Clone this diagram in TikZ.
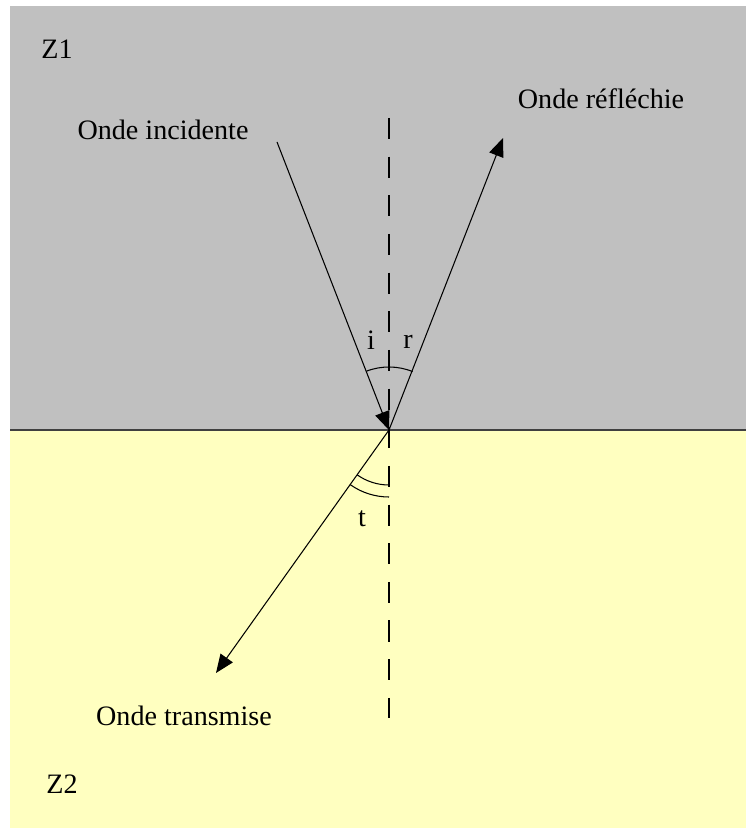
\documentclass[tikz,border=0pt]{standalone}
\usepackage{fontspec}
\setmainfont{Liberation Serif}
\usetikzlibrary{arrows.meta}
\definecolor{zoneone}{HTML}{C0C0C0}
\definecolor{zonetwo}{HTML}{FFFFC0}
\begin{document}
\begin{tikzpicture}[
  x=0.02cm, y=0.02cm,
  every node/.style={
    font=\fontsize{16}{19}\selectfont,
    inner sep=0pt
  },
  ray/.style={-{Triangle[length=10.5pt,width=8.5pt]}, line width=0.6pt},
  normal/.style={line width=0.8pt, dash pattern=on 12pt off 10pt},
  anglemark/.style={line width=0.6pt}
]
\useasboundingbox (0,0) rectangle (746,-830);
\fill[zoneone] (10,-6) rectangle (746,-430);
\fill[zonetwo] (10,-430) rectangle (746,-828);
\draw[line width=1pt, black!75] (10,-430) -- (746,-430);

\coordinate (O) at (389,-430);
\coordinate (src) at (277,-142);
\coordinate (refl) at (503,-138);
\coordinate (trans) at (216,-673);
\coordinate (ntop) at (389,-118);
\coordinate (nbot) at (389,-718);

\draw[normal] (ntop) -- (nbot);
\draw[ray] (src) -- (O);
\draw[ray] (O) -- (refl);
\draw[ray] (O) -- (trans);

% angles
\draw[anglemark] (O) ++(111:63) arc (111:68:63);
\draw[anglemark] (O) ++(234.6:55) arc (234.6:270:55);
\draw[anglemark] (O) ++(234.6:67) arc (234.6:270:67);

\node (z1) at (57,-49) {Z1};
\node (z2) at (62,-784) {Z2};
\node (inc) at (163,-130) {Onde incidente};
\node (ref) at (601,-99) {Onde réfléchie};
\node (tra) at (184,-716) {Onde transmise};
\node (i) at (371,-340) {i};
\node (r) at (408,-342) {r};
\node (t) at (362,-519) {t};
\end{tikzpicture}
\end{document}
